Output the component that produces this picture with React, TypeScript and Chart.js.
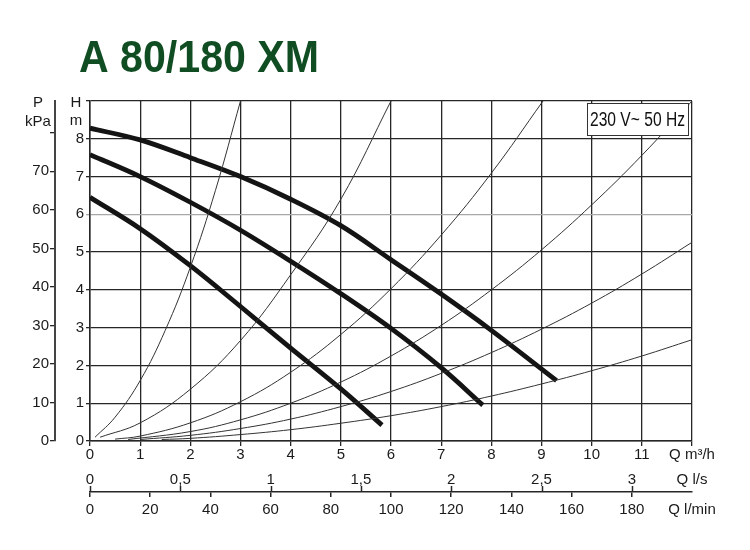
import React, { useEffect, useRef } from 'react';
import { Chart, registerables } from 'chart.js';

Chart.register(...registerables);

const TITLE = 'A 80/180 XM';
const SUPPLY = '230 V~ 50 Hz';
const H_UNIT = ['H', 'm'];
const P_UNIT = ['P', 'kPa'];
const Q_M3H_TITLE = 'Q m³/h';
const Q_LS_TITLE = 'Q l/s';
const Q_LMIN_TITLE = 'Q l/min';

const Q_MAX = 12;
const H_MAX = 9;
const KPA_PER_M = 9.80665;
const Q_LS_MAX = 12 / 3.6;
const Q_LMIN_MAX = 200;

const Q_M3H_TICKS = [0, 1, 2, 3, 4, 5, 6, 7, 8, 9, 10, 11, 12];
const Q_LS_TICKS = [0, 0.5, 1, 1.5, 2, 2.5, 3, Q_LS_MAX];
const Q_LMIN_TICKS = [0, 20, 40, 60, 80, 100, 120, 140, 160, 180, 200];
const H_TICKS = [0, 1, 2, 3, 4, 5, 6, 7, 8, 9];
const KPA_TICKS = [0, 10, 20, 30, 40, 50, 60, 70, 80];

// Pump curves (Q m3/h, H m)
const PUMP_HIGH_Q = [0, 1, 2, 3, 4, 5, 6, 7, 8, 9.3];
const PUMP_HIGH_H = [8.28, 7.97, 7.5, 7.0, 6.4, 5.7, 4.8, 3.89, 2.93, 1.6];
const PUMP_MID_Q = [0, 1, 2, 3, 4, 5, 6, 7, 7.83];
const PUMP_MID_H = [7.58, 7.0, 6.32, 5.58, 4.76, 3.9, 2.98, 1.94, 0.95];
const PUMP_LOW_Q = [0, 1, 2, 3, 4, 5, 5.82];
const PUMP_LOW_H = [6.45, 5.62, 4.64, 3.56, 2.46, 1.38, 0.42];

// System curves
const SYS1_Q = [0.1, 0.5, 1, 1.5, 2, 2.5, 3];
const SYS1_H = [0.1, 0.63, 1.6, 2.93, 4.6, 6.63, 9.0];
const SYS2_Q = [0.2, 1, 2, 3, 4, 5, 6];
const SYS2_H = [0.1, 0.48, 1.37, 2.66, 4.4, 6.4, 9.0];
const SYS3_Q = [0.5, 1, 2, 3, 4, 5, 6, 7, 8, 9.03];
const SYS3_H = [0.05, 0.13, 0.48, 1.04, 1.82, 2.82, 4.03, 5.45, 7.09, 9.0];
const SYS4_Q = [0.76, 2, 3, 4, 5, 6, 7, 8, 9, 10, 11, 12];
const SYS4_H = [0.04, 0.25, 0.56, 1.0, 1.56, 2.25, 3.06, 4.0, 5.06, 6.25, 7.56, 9.0];
const SYS5_Q = [1.0, 2, 3, 4, 5, 6, 7, 8, 9, 10, 11, 12];
const SYS5_H = [0.04, 0.15, 0.33, 0.58, 0.91, 1.31, 1.79, 2.34, 2.96, 3.65, 4.42, 5.26];
const SYS6_Q = [1.43, 2, 3, 4, 5, 6, 7, 8, 9, 10, 11, 12];
const SYS6_H = [0.04, 0.07, 0.17, 0.3, 0.47, 0.67, 0.91, 1.19, 1.51, 1.86, 2.25, 2.68];

const FONT = '"Liberation Sans", Arial, sans-serif';
const TEXT = '#1a1a1a';
const GRID = '#262626';

const series = (qs: number[], hs: number[], width: number, color: string, tension: number) => ({
  data: qs.map((q, i) => ({ x: q, y: hs[i] })),
  borderColor: color,
  borderWidth: width,
  pointRadius: 0,
  fill: false,
  tension,
  borderCapStyle: 'butt' as const,
  xAxisID: 'x',
  yAxisID: 'y',
});

const fixTicks = (vals: number[]) => (scale: any) => {
  scale.ticks = vals.map((v) => ({ value: v }));
};

const overlay = {
  id: 'overlay',
  afterDatasetsDraw(chart: any) {
    const { ctx, chartArea } = chart;
    ctx.save();
    ctx.font = `20px ${FONT}`;
    const tw = ctx.measureText(SUPPLY).width;
    const bw = 101;
    const bh = 32;
    const bx = Math.round(chartArea.right - 4 - bw);
    const by = Math.round(chartArea.top + 2);
    ctx.fillStyle = '#ffffff';
    ctx.fillRect(bx, by, bw, bh);
    ctx.strokeStyle = '#333';
    ctx.lineWidth = 1;
    ctx.strokeRect(bx + 0.5, by + 0.5, bw, bh);
    ctx.translate(bx + bw / 2, by + bh / 2 + 1);
    ctx.scale(95 / tw, 1);
    ctx.fillStyle = '#111';
    ctx.textAlign = 'center';
    ctx.textBaseline = 'middle';
    ctx.fillText(SUPPLY, 0, 0);
    ctx.restore();
  },
  afterDraw(chart: any) {
    const { ctx, chartArea, scales } = chart;
    // Title
    ctx.save();
    ctx.font = `bold 45px ${FONT}`;
    const w = ctx.measureText(TITLE).width;
    ctx.translate(79, 72);
    ctx.scale(240 / w, 1);
    ctx.fillStyle = '#114d22';
    ctx.textAlign = 'left';
    ctx.textBaseline = 'alphabetic';
    ctx.fillText(TITLE, 0, 0);
    ctx.restore();

    // Unit labels
    ctx.save();
    ctx.font = `15px ${FONT}`;
    ctx.fillStyle = TEXT;
    ctx.textAlign = 'center';
    ctx.textBaseline = 'middle';
    const hx = scales.y.right - 14;
    ctx.fillText(H_UNIT[0], hx, chartArea.top + 2);
    ctx.fillText(H_UNIT[1], hx, chartArea.top + 20);
    const px = scales.kpa.right - 17;
    ctx.fillText(P_UNIT[0], px, chartArea.top + 2);
    ctx.fillText(P_UNIT[1], px, chartArea.top + 21);
    ctx.restore();

    // l/s tick marks pointing up from the shared axis line
    const ls = scales.ls;
    const lmin = scales.lmin;
    ctx.save();
    ctx.strokeStyle = GRID;
    ctx.lineWidth = 1.5;
    Q_LS_TICKS.slice(0, -1).forEach((v) => {
      const x = Math.round(ls.getPixelForValue(v)) + 0.5;
      ctx.beginPath();
      ctx.moveTo(x, lmin.top);
      ctx.lineTo(x, lmin.top - 6);
      ctx.stroke();
    });
    ctx.restore();
  },
};

export default function App() {
  const ref = useRef<HTMLCanvasElement | null>(null);

  useEffect(() => {
    if (!ref.current) return;
    const tickFont = { family: FONT, size: 15, lineHeight: 1.2 };
    const chart = new Chart(ref.current, {
      type: 'line',
      data: {
        datasets: [
          series(SYS1_Q, SYS1_H, 1, '#333', 0.4),
          series(SYS2_Q, SYS2_H, 1, '#333', 0.4),
          series(SYS3_Q, SYS3_H, 1, '#333', 0.4),
          series(SYS4_Q, SYS4_H, 1, '#333', 0.4),
          series(SYS5_Q, SYS5_H, 1, '#333', 0.4),
          series(SYS6_Q, SYS6_H, 1, '#333', 0.4),
          series(PUMP_HIGH_Q, PUMP_HIGH_H, 4.8, '#141414', 0.35),
          series(PUMP_MID_Q, PUMP_MID_H, 4.8, '#141414', 0.35),
          series(PUMP_LOW_Q, PUMP_LOW_H, 4.8, '#141414', 0.35),
        ] as any,
      },
      plugins: [overlay],
      options: {
        animation: false,
        responsive: false,
        devicePixelRatio: 1,
        events: [],
        parsing: false as any,
        layout: { padding: { top: 101, right: 58, bottom: 28, left: 0 } },
        plugins: {
          legend: { display: false },
          tooltip: { enabled: false },
          title: { display: false },
        },
        scales: {
          x: {
            type: 'linear',
            position: 'bottom',
            weight: 0,
            min: 0,
            max: Q_MAX,
            afterBuildTicks: fixTicks(Q_M3H_TICKS),
            afterFit: (s: any) => { s.height = 26; },
            ticks: {
              autoSkip: false,
              maxRotation: 0,
              padding: 0,
              color: TEXT,
              font: tickFont,
              callback: (v: any) => (v === Q_MAX ? Q_M3H_TITLE : String(v)),
            },
            grid: { color: GRID, lineWidth: 1.3, tickLength: 5 },
            border: { color: GRID, width: 1.5 },
          },
          ls: {
            type: 'linear',
            position: 'bottom',
            weight: 1,
            min: 0,
            max: Q_LS_MAX,
            afterBuildTicks: fixTicks(Q_LS_TICKS),
            afterFit: (s: any) => { s.height = 25; },
            ticks: {
              autoSkip: false,
              maxRotation: 0,
              padding: -4,
              color: TEXT,
              font: tickFont,
              callback: (v: any) => (v === Q_LS_MAX ? Q_LS_TITLE : String(v).replace('.', ',')),
            },
            grid: { display: false },
            border: { display: false },
          },
          lmin: {
            type: 'linear',
            position: 'bottom',
            weight: 2,
            min: 0,
            max: Q_LMIN_MAX,
            afterBuildTicks: fixTicks(Q_LMIN_TICKS),
            afterFit: (s: any) => { s.height = 30; },
            ticks: {
              autoSkip: false,
              maxRotation: 0,
              padding: 4,
              color: TEXT,
              font: tickFont,
              callback: (v: any) => (v === Q_LMIN_MAX ? Q_LMIN_TITLE : String(v)),
            },
            grid: {
              drawOnChartArea: false,
              tickLength: 5,
              lineWidth: 1.5,
              color: (c: any) => (c.tick && c.tick.value === Q_LMIN_MAX ? 'rgba(0,0,0,0)' : GRID),
            },
            border: { color: GRID, width: 1.5 },
          },
          y: {
            type: 'linear',
            position: 'left',
            weight: 0,
            min: 0,
            max: H_MAX,
            afterBuildTicks: fixTicks(H_TICKS),
            afterFit: (s: any) => { s.width = 35; },
            ticks: {
              autoSkip: false,
              padding: 2,
              color: TEXT,
              font: tickFont,
              callback: (v: any) => (v === H_MAX ? '' : String(v)),
            },
            grid: {
              tickLength: 4,
              lineWidth: 1.3,
              color: (c: any) => (c.tick && c.tick.value === 6 ? '#a8a8a8' : GRID),
            },
            border: { color: GRID, width: 1.5 },
          },
          kpa: {
            type: 'linear',
            position: 'left',
            weight: 1,
            min: 0,
            max: H_MAX * KPA_PER_M,
            afterBuildTicks: fixTicks(KPA_TICKS),
            afterFit: (s: any) => { s.width = 55; },
            ticks: {
              autoSkip: false,
              padding: 1,
              color: TEXT,
              font: tickFont,
              callback: (v: any) => (v === 80 ? '' : String(v)),
            },
            grid: { drawOnChartArea: false, tickLength: 5, lineWidth: 1.3, color: GRID },
            border: { color: '#444', width: 2 },
          },
        },
      } as any,
    });
    return () => chart.destroy();
  }, []);

  return (
    <div style={{ position: 'absolute', left: 0, top: 0, width: 750, height: 550, background: '#fff' }}>
      <canvas ref={ref} width={750} height={550} style={{ display: 'block' }} />
    </div>
  );
}
